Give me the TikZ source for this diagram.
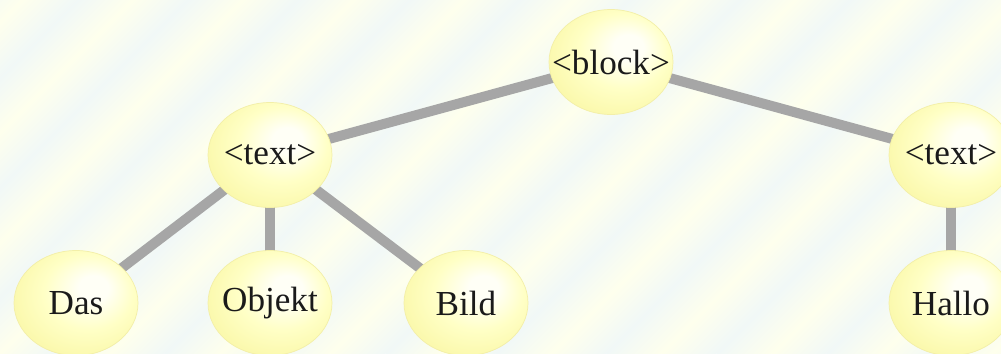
\documentclass[tikz,border=0pt]{standalone}
\usepackage{tikz}
\usepackage{xcolor}
\usepackage{mathtools}
\usepackage{fontspec}
\setmainfont{Liberation Serif}
\usetikzlibrary{shapes.geometric,backgrounds}
\definecolor{bgyel}{HTML}{FEFFED}
\definecolor{bgcyan}{HTML}{F1F8F7}
\definecolor{nodehi}{HTML}{FFFFF6}
\definecolor{nodemid}{HTML}{FFFFC6}
\definecolor{nodeedge}{HTML}{F9F6A2}
\definecolor{nodeline}{HTML}{F3EFA8}
\definecolor{edgegray}{HTML}{A6A6A6}
\definecolor{ink}{HTML}{1A1A1A}
\pgfdeclareradialshading{eggglow}{\pgfpoint{8bp}{8bp}}{color(0bp)=(nodehi); color(6bp)=(nodehi); color(18bp)=(nodemid); color(34bp)=(nodeedge); color(50bp)=(nodeedge)}
\begin{document}
\begin{tikzpicture}[
egg/.style={ellipse, minimum width=2.48cm, minimum height=2.1cm, inner sep=0pt, shade, shading=eggglow, draw=nodeline, line width=0.4pt, text=ink, font=\fontsize{20}{24}\selectfont},
branch/.style={edgegray, line width=0.2cm}]
\useasboundingbox (0,0) rectangle (20.02,7.06);
\node[egg] (block) at (12.22,5.82) {\clap{<block>}};
\node[egg] (textL) at (5.40,3.96) {\clap{<text>}};
\node[egg] (textR) at (19.02,3.96) {\clap{<text>}};
\node[egg] (das) at (1.52,1.0) {\clap{Das}};
\node[egg] (objekt) at (5.40,1.0) {\clap{Objekt}};
\node[egg] (bild) at (9.32,1.0) {\clap{Bild}};
\node[egg] (hallo) at (19.02,1.0) {\clap{Hallo}};
\begin{scope}[on background layer]
\clip (0,0) rectangle (20.02,7.06);
\fill[bgyel] (0,0) rectangle (20.02,7.06);
\begin{scope}[transform canvas={rotate=-45}]
\foreach \k in {-18,...,18} {
\shade[left color=bgyel, right color=bgcyan] (\k*1.56,-32) rectangle (\k*1.56+0.78,32);
\shade[left color=bgcyan, right color=bgyel] (\k*1.56+0.78,-32) rectangle (\k*1.56+1.56,32);
}
\end{scope}
\draw[branch] (block.center) -- (textL.center);
\draw[branch] (block.center) -- (textR.center);
\draw[branch] (textL.center) -- (das.center);
\draw[branch] (textL.center) -- (objekt.center);
\draw[branch] (textL.center) -- (bild.center);
\draw[branch] (textR.center) -- (hallo.center);
\end{scope}
\end{tikzpicture}
\end{document}
